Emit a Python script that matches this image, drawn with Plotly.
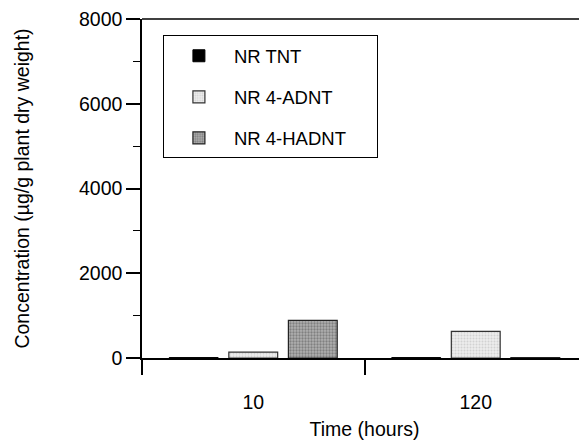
import plotly.graph_objects as go

categories = ["10", "120"]
series_names = ["NR TNT", "NR 4-ADNT", "NR 4-HADNT"]
tnt = [10, 10]
adnt = [140, 630]
hadnt = [890, 10]
y_ticks = [0, 2000, 4000, 6000, 8000]

FONT = "Liberation Sans, Arial, sans-serif"
PAD = "\u00a0" * 5

styles = [
    dict(color="#000000", line=dict(color="#000000", width=1)),
    dict(color="#e2e2e2", line=dict(color="#333333", width=1.2),
         pattern=dict(shape=".", fgcolor="#b8b8b8", bgcolor="#ececec", size=3, solidity=0.35)),
    dict(color="#9a9a9a", line=dict(color="#222222", width=1.2),
         pattern=dict(shape=".", fgcolor="#505050", bgcolor="#b0b0b0", size=3, solidity=0.45)),
]

fig = go.Figure()
for name, vals, st in zip(series_names, [tnt, adnt, hadnt], styles):
    fig.add_trace(go.Bar(x=categories, y=vals, name=name + PAD, marker=st,
                         legendgroup=name))

# page body has an 8px margin, so the figure is shifted by 8px
fig.update_layout(
    width=579, height=437,
    margin=dict(l=134, r=0, t=6, b=87),
    paper_bgcolor="white", plot_bgcolor="white",
    font=dict(family=FONT, size=19.5, color="black"),
    barmode="group", bargap=0.197, bargroupgap=0.18,
    showlegend=True,
    legend=dict(x=0.047, y=0.953, xanchor="left", yanchor="top",
                bordercolor="black", borderwidth=1, bgcolor="white",
                font=dict(family=FONT, size=18.5, color="black"),
                title=dict(text=" ", font=dict(size=1)),
                itemwidth=60, tracegroupgap=14, itemclick=False),
    xaxis=dict(type="category", range=[-0.5, 1.5], showline=True, linecolor="black",
               linewidth=1.5, ticks="outside", ticklen=15, tickcolor="black",
               tickwidth=1.5, tickson="boundaries", showgrid=False, zeroline=False,
               ticklabelstandoff=26,
               title=dict(text="Time (hours)", standoff=10, font=dict(size=19.5)),
               tickfont=dict(size=19.5)),
    yaxis=dict(range=[0, 8000], tickvals=y_ticks, showline=True, linecolor="black",
               linewidth=1.5, ticks="outside", ticklen=14, tickcolor="black",
               tickwidth=1.5, showgrid=False, zeroline=False,
               ticklabeloverflow="allow",
               minor=dict(dtick=1000, ticks="outside", ticklen=7, tickcolor="black",
                          tickwidth=1.2, showgrid=False),
               title=dict(text="Concentration (µg/g plant dry weight)", standoff=44,
                          font=dict(size=19.5)),
               tickfont=dict(size=19.5)),
)
# top spine only (no right spine)
fig.add_shape(type="line", xref="paper", yref="paper", x0=0, x1=1, y0=1, y1=1,
              line=dict(color="black", width=1.5))

fig.write_html("out.html")
